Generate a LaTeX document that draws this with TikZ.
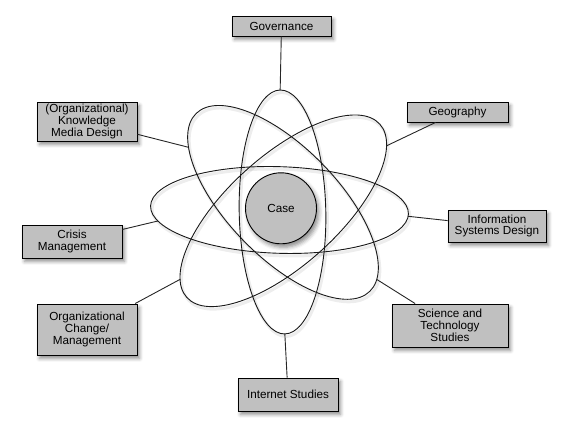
\documentclass[tikz,border=0pt]{standalone}
\usepackage{fontspec}
\setmainfont{Liberation Sans}
\usetikzlibrary{shadows.blur}
\definecolor{boxgray}{RGB}{192,192,192}
\begin{document}
\begin{tikzpicture}[x=1pt,y=1pt,
  box/.style={draw=black, line width=0.9pt, fill=boxgray, align=center, inner sep=0pt,
    font=\fontsize{11.7}{11.9}\selectfont,
    blur shadow={shadow xshift=2.5pt, shadow yshift=-3.5pt, shadow blur radius=3.5pt, shadow opacity=45}},
  ell/.style={draw=black!90, line width=0.9pt},
  ellshadow/.style={draw=black, line width=3pt, opacity=0.07},
  conn/.style={draw=black!85, line width=0.9pt}]
\useasboundingbox (0,0) rectangle (568,435);
% ellipse shadows
\foreach \cx/\cy/\r/\a/\b in {282.5/223/1.1/43.3/122, 279.5/225/-1.8/129/43.3, 283/232.6/-45.7/124.3/55, 283.3/224.2/41.9/129.7/55}{
  \draw[ellshadow, shift={(\cx+1.5,\cy-2.5)}, rotate=\r] (0,0) ellipse [x radius=\a, y radius=\b];
}
% ellipses with named points
\begin{scope}[shift={(282.5,223)}, rotate=1.1]
  \draw[ell] (0,0) ellipse [x radius=43.3, y radius=122];
  \coordinate (vTop) at (0,122);
  \coordinate (vBot) at (0,-122);
\end{scope}
\begin{scope}[shift={(279.5,225)}, rotate=-1.8]
  \draw[ell] (0,0) ellipse [x radius=129, y radius=43.3];
  \coordinate (hRight) at ({129*cos(-3)},{43.3*sin(-3)});
  \coordinate (hLeft) at ({129*cos(200)},{43.3*sin(200)});
\end{scope}
\begin{scope}[shift={(283,232.6)}, rotate=-45.7]
  \draw[ell] (0,0) ellipse [x radius=124.3, y radius=55];
  \coordinate (nwA) at ({124.3*cos(212)},{55*sin(212)});
  \coordinate (nwB) at ({124.3*cos(14)},{55*sin(14)});
\end{scope}
\begin{scope}[shift={(283.3,224.2)}, rotate=41.9]
  \draw[ell] (0,0) ellipse [x radius=129.7, y radius=55];
  \coordinate (neA) at ({129.7*cos(-22)},{55*sin(-22)});
  \coordinate (neB) at ({129.7*cos(161)},{55*sin(161)});
\end{scope}
% central circle
\node[circle, draw=black, line width=0.9pt, fill=boxgray, minimum size=71pt, inner sep=0pt,
  font=\fontsize{11.7}{11.9}\selectfont,
  blur shadow={shadow xshift=2.5pt, shadow yshift=-3.5pt, shadow blur radius=4pt, shadow opacity=45}] (case) at (281,226.7) {Case};
% boxes
\node[box, minimum width=99pt, minimum height=20pt] (gov) at (281.5,409) {Governance};
\node[box, minimum width=100pt, minimum height=39pt] (kmd) at (87,313.5) {(Organizational)\\Knowledge\\Media Design};
\node[box, minimum width=101pt, minimum height=20pt] (geo) at (457.5,323) {Geography};
\node[box, minimum width=98pt, minimum height=32pt] (isd) at (497,209) {Information\\Systems Design};
\node[box, minimum width=100pt, minimum height=33pt] (cri) at (72,193.5) {Crisis\\Management};
\node[box, minimum width=100pt, minimum height=51pt] (ocm) at (87,105.5) {Organizational\\Change/\\Management};
\node[box, minimum width=116pt, minimum height=43pt] (sts) at (450,109.5) {Science and\\Technology\\Studies};
\node[box, minimum width=100pt, minimum height=33pt] (int) at (288,40.5) {Internet Studies};
% connectors
\draw[conn] (gov) -- (vTop);
\draw[conn] (int) -- (vBot);
\draw[conn] (isd) -- (hRight);
\draw[conn] (cri) -- (hLeft);
\draw[conn] (kmd) -- (nwA);
\draw[conn] (sts) -- (nwB);
\draw[conn] (geo) -- (neA);
\draw[conn] (ocm) -- (neB);
\end{tikzpicture}
\end{document}
